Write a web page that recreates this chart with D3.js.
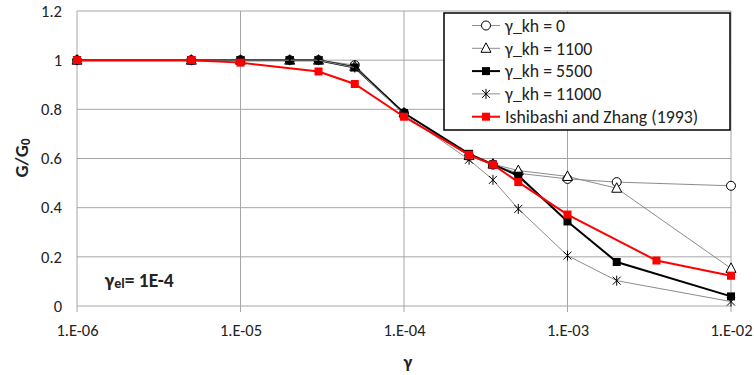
<!DOCTYPE html>
<html>
<head>
<meta charset="utf-8">
<script src="https://cdn.jsdelivr.net/npm/d3@7"></script>
<style>
  body { margin: 0; background: #fff; }
  text { font-family: Carlito, Calibri, "Open Sans", sans-serif; }
</style>
</head>
<body>
<script>
// strain values (x) for the model runs and the reference curve
var strains = [1e-6, 5e-6, 1e-5, 2e-5, 3e-5, 5e-5, 1e-4, 2.5e-4, 3.5e-4, 5e-4, 1e-3, 2e-3, 1e-2];
var strainsRef = [1e-6, 5e-6, 1e-5, 3e-5, 5e-5, 1e-4, 2.5e-4, 3.5e-4, 5e-4, 1e-3, 3.5e-3, 1e-2];

var kh0     = [1, 1, 1, 1, 1, 0.98, 0.785, 0.61, 0.575, 0.54, 0.517, 0.504, 0.489];
var kh1100  = [1, 1, 1, 1, 1, 0.975, 0.785, 0.612, 0.577, 0.551, 0.527, 0.479, 0.153];
var kh5500  = [1, 1, 1, 1, 1, 0.97, 0.785, 0.619, 0.576, 0.53, 0.344, 0.179, 0.039];
var kh11000 = [1, 1, 1, 1, 1, 0.97, 0.78, 0.595, 0.513, 0.395, 0.205, 0.103, 0.018];
var ishibashi = [1, 1, 0.99, 0.954, 0.903, 0.77, 0.615, 0.575, 0.504, 0.372, 0.185, 0.123];

var xTicks = [1e-6, 1e-5, 1e-4, 1e-3, 1e-2];
var xTickLabels = ['1.E-06', '1.E-05', '1.E-04', '1.E-03', '1.E-02'];
var yTicks = [0, 0.2, 0.4, 0.6, 0.8, 1, 1.2];

var series = [
  {name: 'γ_kh = 0', x: strains, y: kh0, line: '#8c8c8c', lw: 1, marker: 'circle'},
  {name: 'γ_kh = 1100', x: strains, y: kh1100, line: '#8c8c8c', lw: 1, marker: 'triangle'},
  {name: 'γ_kh = 5500', x: strains, y: kh5500, line: '#000', lw: 2, marker: 'square'},
  {name: 'γ_kh = 11000', x: strains, y: kh11000, line: '#8c8c8c', lw: 1, marker: 'star'},
  {name: 'Ishibashi and Zhang (1993)', x: strainsRef, y: ishibashi, line: '#ff0000', lw: 2, marker: 'redsquare'}
];

var W = 754, H = 375;
var margin = {top: 11, right: 23, bottom: 69, left: 77};
var width = W - margin.left - margin.right,
    height = H - margin.top - margin.bottom;
var font = 'Carlito, Calibri, "Open Sans", sans-serif';

var x = d3.scaleLog().domain([1e-6, 1e-2]).range([0, width]);
var y = d3.scaleLinear().domain([0, 1.2]).range([height, 0]);

var svg = d3.select('body').append('svg')
  .attr('width', W)
  .attr('height', H);

var g = svg.append('g')
  .attr('transform', 'translate(' + margin.left + ',' + margin.top + ')');

// grid
g.append('g').selectAll('line.h')
  .data(yTicks).enter().append('line')
  .attr('x1', 0).attr('x2', width)
  .attr('y1', function(d) { return y(d); })
  .attr('y2', function(d) { return y(d); })
  .attr('stroke', '#a6a6a6').attr('stroke-width', 1);

g.append('g').selectAll('line.v')
  .data(xTicks).enter().append('line')
  .attr('x1', function(d) { return x(d); })
  .attr('x2', function(d) { return x(d); })
  .attr('y1', 0).attr('y2', height + 6)
  .attr('stroke', '#a6a6a6').attr('stroke-width', 1);

// axes labels
var xAxis = d3.axisBottom(x).tickValues(xTicks).tickSize(0).tickPadding(18)
  .tickFormat(function(d, i) { return xTickLabels[i]; });
var xg = g.append('g').attr('transform', 'translate(0,' + height + ')').call(xAxis);
xg.select('.domain').remove();
xg.selectAll('text').attr('font-size', 16.5).attr('fill', '#222').style('font-family', font);

var yAxis = d3.axisLeft(y).tickValues(yTicks).tickSize(0).tickPadding(15)
  .tickFormat(d3.format('~g'));
var yg = g.append('g').call(yAxis);
yg.select('.domain').remove();
yg.selectAll('text').attr('font-size', 16.5).attr('fill', '#222').style('font-family', font);

// lines
var line = d3.line()
  .x(function(d) { return x(d[0]); })
  .y(function(d) { return y(d[1]); });

var starPath = 'M-4,-4L4,4M-4,4L4,-4M0,-5L0,5';

function drawMarker(sel, type) {
  if (type === 'circle') {
    sel.append('circle').attr('r', 4.5).attr('fill', '#fff').attr('stroke', '#000').attr('stroke-width', 1);
  } else if (type === 'triangle') {
    sel.append('path').attr('d', 'M0,-5.5L5,4L-5,4Z').attr('fill', '#fff').attr('stroke', '#000').attr('stroke-width', 1);
  } else if (type === 'square') {
    sel.append('rect').attr('x', -4).attr('y', -4).attr('width', 8).attr('height', 8).attr('fill', '#000');
  } else if (type === 'star') {
    sel.append('path').attr('d', starPath).attr('fill', 'none').attr('stroke', '#000').attr('stroke-width', 1);
  } else if (type === 'redsquare') {
    sel.append('rect').attr('x', -4).attr('y', -4).attr('width', 8).attr('height', 8).attr('fill', '#ff0000');
  }
}

series.forEach(function(s) {
  var pts = s.x.map(function(v, i) { return [v, s.y[i]]; });
  g.append('path')
    .datum(pts)
    .attr('fill', 'none')
    .attr('stroke', s.line)
    .attr('stroke-width', s.lw)
    .attr('d', line);
  pts.forEach(function(p) {
    var m = g.append('g').attr('transform', 'translate(' + x(p[0]) + ',' + y(p[1]) + ')');
    drawMarker(m, s.marker);
  });
});

// legend
var legend = svg.append('g').attr('transform', 'translate(444,13)');
legend.append('rect')
  .attr('width', 286).attr('height', 117)
  .attr('fill', '#fff').attr('stroke', '#000').attr('stroke-width', 1.5);

series.forEach(function(s, i) {
  var row = legend.append('g').attr('transform', 'translate(0,' + (12.5 + i * 22.8) + ')');
  row.append('line')
    .attr('x1', 28).attr('x2', 56)
    .attr('stroke', s.line).attr('stroke-width', s.lw);
  drawMarker(row.append('g').attr('transform', 'translate(42,0)'), s.marker);
  row.append('text')
    .attr('x', 61).attr('y', 0).attr('dy', '0.35em')
    .attr('font-size', 17.8).attr('fill', '#222')
    .text(s.name);
});

// axis titles
svg.append('text')
  .attr('transform', 'translate(28,158) rotate(-90)')
  .attr('text-anchor', 'middle')
  .attr('font-size', 19).attr('font-weight', 'bold').attr('fill', '#222')
  .html('G/G<tspan font-size="13" dy="2">0</tspan>');

svg.append('text')
  .attr('x', 408).attr('y', 368)
  .attr('text-anchor', 'middle')
  .attr('font-size', 18).attr('font-weight', 'bold').attr('fill', '#222')
  .text('γ');

// annotation
svg.append('text')
  .attr('x', 105).attr('y', 287)
  .attr('font-size', 19.5).attr('font-weight', 'bold').attr('fill', '#222')
  .html('γ<tspan font-size="14" dy="1">el</tspan><tspan dy="-1">= 1E-4</tspan>');
</script>
</body>
</html>
